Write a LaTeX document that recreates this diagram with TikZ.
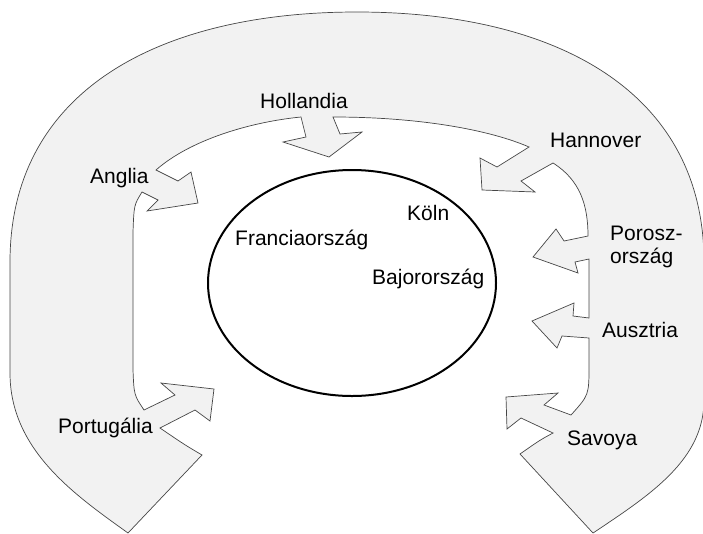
\documentclass[tikz,border=0pt]{standalone}
\usepackage{fontspec}
\setmainfont{Liberation Sans}
\usepackage{xcolor}

\tikzset{
  band/.style={fill=gray!10, draw=gray!55!black, line width=0.7pt, line join=miter},
  land/.style={font=\fontsize{21}{24}\selectfont, anchor=base west, inner sep=0pt}
}

\begin{document}
\begin{tikzpicture}[x=1pt, y=-1pt]
    \useasboundingbox (0,0) rectangle (703,533);

    % Band with arrows
    \path[band] (128,533) -- (202,455) .. controls (185,445) .. (160,428)
        -- (195,410) -- (210,421) -- (214,389) -- (161,383) -- (175,395) -- (144,410)
        .. controls (134,395) .. (133,370) -- (133,232) .. controls (134,205) .. (142,192)
        -- (158,200) -- (147,211) -- (198,203) -- (191,172) -- (178,181) -- (156,170)
        .. controls (190,140) and (250,122) .. (301,117)
        -- (306,137) -- (283,142) -- (329,157) -- (362,132) -- (340,134) -- (333,117)
        .. controls (420,117) and (490,130) .. (529,147)
        -- (497,167) -- (480,158) -- (482,190) -- (535,192) -- (521,181) -- (553,163)
        .. controls (580,180) and (588,205) .. (588,236)
        -- (564,241) -- (556,229) -- (533,257) -- (578,273) -- (575,262) -- (589,259)
        -- (589,318) -- (573,316) -- (574,303) -- (532,321) -- (557,348) -- (562,336) -- (589,338)
        -- (589,365) .. controls (589,395) .. (571,415)
        -- (544,405) -- (558,393) -- (506,397) -- (507,429) -- (521,418) -- (553,433)
        .. controls (540,440) .. (520,454) -- (593,533)
        .. controls (650,495) and (704,460) .. (704,400) -- (704,262)
        .. controls (704,90) and (554,12) .. (357,12)
        .. controls (160,12) and (10,90) .. (10,262) -- (10,373)
        .. controls (10,450) and (75,495) .. (128,533) -- cycle;

    % France
    \draw[line width=2pt] (352,283) ellipse [x radius=144pt, y radius=113pt];

    % Labels
    \node[land] (holl) at (260,108) {Hollandia};
    \node[land] (angl) at (90,183) {Anglia};
    \node[land] (hann) at (550,147) {Hannover};
    \node[land] (poro) at (610,240) {Porosz-};
    \node[land] (porb) at (610,263) {ország};
    \node[land] (ausz) at (602,337) {Ausztria};
    \node[land] (savo) at (567,445) {Savoya};
    \node[land] (port) at (58,433) {Portugália};
    \node[land] (koln) at (407,220) {Köln};
    \node[land] (fran) at (235,245) {Franciaország};
    \node[land] (bajo) at (372,284) {Bajorország};
\end{tikzpicture}
\end{document}
